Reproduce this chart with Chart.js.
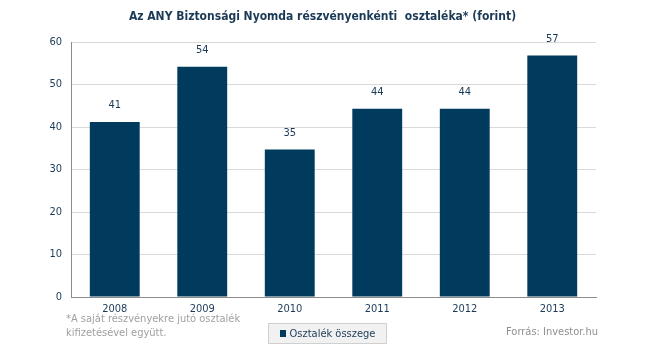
<!DOCTYPE html>
<html><head><meta charset="utf-8">
<script src="https://cdn.jsdelivr.net/npm/chart.js@4.4.1/dist/chart.umd.min.js"></script>
<style>
html,body{margin:0;padding:0;background:#fff;}
#wrap{position:relative;width:645px;height:354px;overflow:hidden;font-family:"DejaVu Sans Condensed","Liberation Sans",sans-serif;}
canvas{position:absolute;left:0;top:0;}
#title{position:absolute;left:0;width:645px;top:9px;text-align:center;font-weight:bold;font-size:12px;color:#1b3a57;white-space:pre;}
#note{position:absolute;left:66px;top:312px;font-size:11px;line-height:14px;color:#a0a0a0;}
#src{position:absolute;right:47px;top:325px;font-size:11px;color:#909090;}
#legend{position:absolute;left:268px;top:323px;width:119px;height:21px;box-sizing:border-box;border:1px solid #d0d0d0;background:#f1f1f1;font-size:11px;color:#1b3a57;line-height:19px;text-align:center;}
#legend span.box{display:inline-block;width:6px;height:7px;background:#003a5d;margin-right:4px;vertical-align:0px;}
</style></head>
<body><div id="wrap">
<canvas id="c" width="645" height="354"></canvas>
<div id="title">Az ANY Biztonsági Nyomda részvényenkénti  osztaléka* (forint)</div>
<div id="note">*A saját részvényekre jutó osztalék<br>kifizetésével együtt.</div>
<div id="legend"><span class="box"></span>Osztalék összege</div>
<div id="src">Forrás: Investor.hu</div>
</div>
<script>
const categories = ["2008","2009","2010","2011","2012","2013"];
const dividends = [41, 54, 35, 44, 44, 57];
const barHeights = [41.2, 54.2, 34.7, 44.3, 44.3, 56.8];
const yTicks = [0,10,20,30,40,50,60];
const seriesName = "Osztalék összege";

const FONT = "'DejaVu Sans Condensed','Liberation Sans',sans-serif";
const labelPlugin = {
  id:'vlabels',
  afterDatasetsDraw(chart){
    const ctx = chart.ctx;
    const meta = chart.getDatasetMeta(0);
    ctx.save();
    ctx.font = "11px " + FONT;
    ctx.fillStyle = "#1b3a57";
    ctx.textAlign = "center";
    ctx.textBaseline = "bottom";
    meta.data.forEach((bar,i)=>{
      ctx.fillText(String(dividends[i]), bar.x, bar.y - 11);
    });
    ctx.restore();
  }
};

new Chart(document.getElementById('c'), {
  type:'bar',
  data:{ labels: categories, datasets:[{ label: seriesName, data: barHeights, backgroundColor:'#003a5d', categoryPercentage:0.57, barPercentage:1.0 }]},
  options:{
    responsive:false, animation:false, devicePixelRatio:1,
    layout:{padding:{top:42,right:49,bottom:0,left:0}},
    plugins:{legend:{display:false}, title:{display:false}, tooltip:{enabled:false}},
    scales:{
      x:{
        grid:{display:false, drawTicks:false},
        border:{display:true,color:'#8c8c8c'},
        ticks:{font:{size:11,family:FONT},color:'#1b3a57',padding:6},
        afterFit(s){ s.height = 57; }
      },
      y:{
        min:0,max:60,
        afterBuildTicks(s){ s.ticks = yTicks.map(v=>({value:v})); },
        grid:{color:'#d9d9d9',drawTicks:false},
        border:{display:true,color:'#8c8c8c'},
        ticks:{font:{size:11,family:FONT},color:'#1b3a57',padding:9},
        afterFit(s){ s.width = 71; }
      }
    }
  },
  plugins:[labelPlugin]
});
</script>
</body></html>
